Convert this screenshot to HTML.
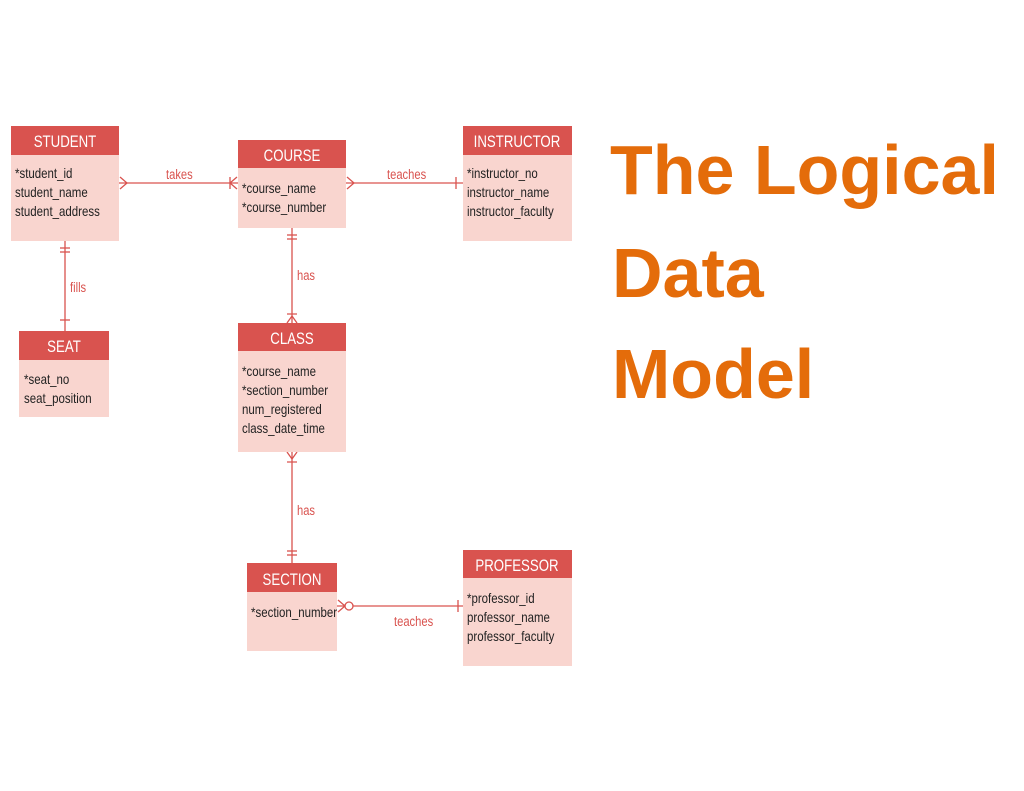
<!DOCTYPE html>
<html><head><meta charset="utf-8"><style>
html,body{margin:0;padding:0;background:#fff;}
svg{display:block;}
.h{fill:#fff;font-family:"Liberation Sans",sans-serif;font-size:17px;text-anchor:middle;transform-box:fill-box;transform-origin:50% 50%;transform:scaleX(.78);}
.b{fill:#222;font-family:"Liberation Sans",sans-serif;font-size:14px;transform-box:fill-box;transform-origin:0 0;transform:scaleX(.82);}
.l{fill:#d9534f;font-family:"Liberation Sans",sans-serif;font-size:14px;transform-box:fill-box;transform-origin:0 0;transform:scaleX(.8);}
.t{fill:#e46c0a;font-family:"Liberation Sans",sans-serif;font-weight:bold;font-size:70px;}
line,path.c{stroke:#d9534f;stroke-width:1.3;fill:none;}
</style></head><body>
<svg width="1024" height="791" viewBox="0 0 1024 791" xmlns="http://www.w3.org/2000/svg">
<line x1="119" y1="183" x2="238" y2="183"/>
<path class="c" d="M120 177 L127 183 L120 189"/>
<path class="c" d="M237 177 L230 183 L237 189 M230 177 L230 189"/>
<text class="l" x="166" y="179">takes</text>
<line x1="346" y1="183" x2="463" y2="183"/>
<path class="c" d="M347 177 L354 183 L347 189"/>
<line x1="456" y1="177" x2="456" y2="189"/>
<text class="l" x="387" y="179">teaches</text>
<line x1="65" y1="241" x2="65" y2="331"/>
<line x1="60" y1="248" x2="70" y2="248"/><line x1="60" y1="252" x2="70" y2="252"/>
<line x1="60" y1="320" x2="70" y2="320"/>
<text class="l" x="70" y="292">fills</text>
<line x1="292" y1="228" x2="292" y2="323"/>
<line x1="287" y1="235" x2="297" y2="235"/><line x1="287" y1="239" x2="297" y2="239"/>
<path class="c" d="M287 323 L292 316 L297 323 M287 314 L297 314"/>
<text class="l" x="297" y="280">has</text>
<line x1="292" y1="452" x2="292" y2="563"/>
<path class="c" d="M287 452 L292 459 L297 452 M287 462 L297 462"/>
<line x1="287" y1="551" x2="297" y2="551"/><line x1="287" y1="555" x2="297" y2="555"/>
<text class="l" x="297" y="515">has</text>
<line x1="337" y1="606" x2="463" y2="606"/>
<path class="c" d="M338 600 L345 606 L338 612"/>
<circle cx="349" cy="606" r="4" fill="#fff" stroke="#d9534f" stroke-width="1.3"/>
<line x1="458" y1="600" x2="458" y2="612"/>
<text class="l" x="394" y="626">teaches</text>
<g>
<rect x="11" y="155" width="108" height="86" fill="#f9d5cf"/><rect x="11" y="126" width="108" height="29" fill="#d9534f"/>
<text class="h" x="65" y="147">STUDENT</text>
<text class="b" x="15" y="178">*student_id</text><text class="b" x="15" y="197">student_name</text><text class="b" x="15" y="216">student_address</text>
</g>
<g>
<rect x="238" y="168" width="108" height="60" fill="#f9d5cf"/><rect x="238" y="140" width="108" height="28" fill="#d9534f"/>
<text class="h" x="292" y="161">COURSE</text>
<text class="b" x="242" y="193">*course_name</text><text class="b" x="242" y="212">*course_number</text>
</g>
<g>
<rect x="463" y="155" width="109" height="86" fill="#f9d5cf"/><rect x="463" y="126" width="109" height="29" fill="#d9534f"/>
<text class="h" x="517" y="147">INSTRUCTOR</text>
<text class="b" x="467" y="178">*instructor_no</text><text class="b" x="467" y="197">instructor_name</text><text class="b" x="467" y="216">instructor_faculty</text>
</g>
<g>
<rect x="19" y="360" width="90" height="57" fill="#f9d5cf"/><rect x="19" y="331" width="90" height="29" fill="#d9534f"/>
<text class="h" x="64" y="352">SEAT</text>
<text class="b" x="24" y="384">*seat_no</text><text class="b" x="24" y="403">seat_position</text>
</g>
<g>
<rect x="238" y="351" width="108" height="101" fill="#f9d5cf"/><rect x="238" y="323" width="108" height="28" fill="#d9534f"/>
<text class="h" x="292" y="344">CLASS</text>
<text class="b" x="242" y="376">*course_name</text><text class="b" x="242" y="395">*section_number</text><text class="b" x="242" y="414">num_registered</text><text class="b" x="242" y="433">class_date_time</text>
</g>
<g>
<rect x="247" y="592" width="90" height="59" fill="#f9d5cf"/><rect x="247" y="563" width="90" height="29" fill="#d9534f"/>
<text class="h" x="292" y="585">SECTION</text>
<text class="b" x="251" y="617">*section_number</text>
</g>
<g>
<rect x="463" y="578" width="109" height="88" fill="#f9d5cf"/><rect x="463" y="550" width="109" height="28" fill="#d9534f"/>
<text class="h" x="517" y="571">PROFESSOR</text>
<text class="b" x="467" y="603">*professor_id</text><text class="b" x="467" y="622">professor_name</text><text class="b" x="467" y="641">professor_faculty</text>
</g>
<text class="t" x="610" y="194">The Logical</text>
<text class="t" x="612" y="297">Data</text>
<text class="t" x="612" y="398">Model</text>
</svg>
</body></html>
